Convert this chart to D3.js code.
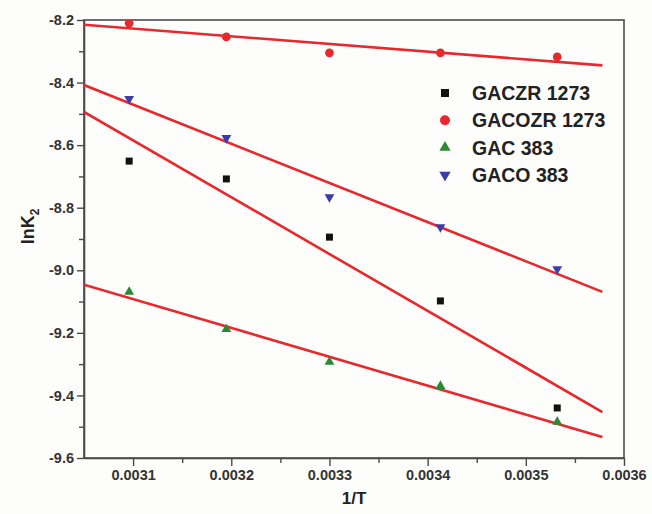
<!DOCTYPE html>
<html>
<head>
<meta charset="utf-8">
<script src="https://cdn.jsdelivr.net/npm/d3@7"></script>
<style>
  body { margin: 0; background: #fdfdfb; }
  svg { font-family: 'Liberation Sans', Arial, sans-serif; }
</style>
</head>
<body>
<div id="chart"></div>
<script>
// 1/T values (same for every series)
const invT = [0.003096, 0.003195, 0.0033, 0.003413, 0.003532]

const seriesNames = ['GACZR 1273', 'GACOZR 1273', 'GAC 383', 'GACO 383']
const gaczr = [-8.651, -8.708, -8.894, -9.098, -9.440]
const gacozr = [-8.210, -8.254, -8.305, -8.305, -8.318]
const gac = [-9.069, -9.188, -9.293, -9.370, -9.485]
const gaco = [-8.452, -8.577, -8.766, -8.862, -8.996]

// fitted lines: value at fitX[0] and fitX[1]
const fitX = [0.00305, 0.003578]
const fitGaczr = [-8.494, -9.453]
const fitGacozr = [-8.215, -8.345]
const fitGac = [-9.046, -9.533]
const fitGaco = [-8.408, -9.069]

const xTicks = [0.0031, 0.0032, 0.0033, 0.0034, 0.0035, 0.0036]
const yTicks = [-8.2, -8.4, -8.6, -8.8, -9.0, -9.2, -9.4, -9.6]

const width = 652, height = 514
const margin = { left: 84, right: 28, top: 20, bottom: 56 }

const svg = d3.select('#chart').append('svg').attr('width', width).attr('height', height)

const x = d3.scaleLinear().domain([0.00305, 0.0036]).range([margin.left, width - margin.right])
const y = d3.scaleLinear().domain([-9.6, -8.2]).range([height - margin.bottom, margin.top])

const axisColor = '#4a4a4a'
const red = '#e8282c'

svg.append('clipPath').attr('id', 'plot')
	.append('rect')
	.attr('x', margin.left).attr('y', margin.top)
	.attr('width', width - margin.left - margin.right)
	.attr('height', height - margin.top - margin.bottom)

// minor ticks
const xMinor = [0.00315, 0.00325, 0.00335, 0.00345, 0.00355]
const yMinor = [-8.3, -8.5, -8.7, -8.9, -9.1, -9.3, -9.5]

const xAxis = svg.append('g').attr('transform', `translate(0,${height - margin.bottom})`)
xAxis.call(d3.axisBottom(x).tickValues(xTicks).tickFormat(d3.format('.4f')).tickSize(8).tickSizeOuter(0).tickPadding(4))
svg.append('g').attr('transform', `translate(0,${height - margin.bottom})`)
	.call(d3.axisBottom(x).tickValues(xMinor).tickFormat('').tickSize(5).tickSizeOuter(0))
	.call((g) => g.select('.domain').remove())

const yAxis = svg.append('g').attr('transform', `translate(${margin.left},0)`)
yAxis.call(d3.axisLeft(y).tickValues(yTicks).tickFormat(d3.format('.1f')).tickSize(7).tickSizeOuter(0).tickPadding(3))
svg.append('g').attr('transform', `translate(${margin.left},0)`)
	.call(d3.axisLeft(y).tickValues(yMinor).tickFormat('').tickSize(5).tickSizeOuter(0))
	.call((g) => g.select('.domain').remove())

// frame
svg.append('rect')
	.attr('x', margin.left).attr('y', margin.top)
	.attr('width', width - margin.left - margin.right)
	.attr('height', height - margin.top - margin.bottom)
	.attr('fill', 'none').attr('stroke', axisColor).attr('stroke-width', 1.6)

svg.selectAll('.tick line').attr('stroke', axisColor).attr('stroke-width', 1.4)
svg.selectAll('.domain').attr('stroke', axisColor).attr('stroke-width', 1.6)
svg.selectAll('.tick text')
	.attr('fill', '#333')
	.attr('font-size', '14.5px')
	.attr('font-weight', 'bold')
	.attr('font-family', "'Liberation Sans', Arial, sans-serif")
yAxis.selectAll('.tick text').text((d) => d3.format('.1f')(d).replace('−', '-'))

// axis titles
svg.append('text')
	.attr('x', x(0.003325)).attr('y', 504)
	.attr('text-anchor', 'middle')
	.attr('font-size', '17px').attr('font-weight', 'bold').attr('fill', '#222')
	.text('1/T')

const yTitle = svg.append('text')
	.attr('transform', `translate(34,${y(-8.86)}) rotate(-90)`)
	.attr('text-anchor', 'middle')
	.attr('font-size', '18px').attr('font-weight', 'bold').attr('fill', '#222')
yTitle.append('tspan').text('lnK')
yTitle.append('tspan').attr('font-size', '12px').attr('dy', 5).text('2')

const plot = svg.append('g').attr('clip-path', 'url(#plot)')

// fit lines
const fits = [fitGaczr, fitGacozr, fitGac, fitGaco]
plot.selectAll('.fit')
	.data(fits)
	.enter()
	.append('line')
	.attr('class', 'fit')
	.attr('x1', x(fitX[0])).attr('x2', x(fitX[1]))
	.attr('y1', (d) => y(d[0])).attr('y2', (d) => y(d[1]))
	.attr('stroke', red).attr('stroke-width', 2.6)

// markers
const symbols = [d3.symbolSquare, d3.symbolCircle, d3.symbolTriangle, d3.symbolTriangle]
const sizes = [49, 60, 42, 42]
const colors = ['#111111', red, '#2b8a35', '#3c3ca8']
const rotations = [0, 0, 0, 180]
const allSeries = [gaczr, gacozr, gac, gaco]

allSeries.forEach(function (vals, si) {
	plot.append('g')
		.selectAll('path')
		.data(vals)
		.enter()
		.append('path')
		.attr('d', d3.symbol().type(symbols[si]).size(sizes[si]))
		.attr('transform', (d, i) => `translate(${x(invT[i])},${y(d)}) rotate(${rotations[si]})`)
		.attr('fill', colors[si])
})

// legend
const legend = svg.append('g').attr('transform', 'translate(445,93)')
seriesNames.forEach(function (name, i) {
	const row = legend.append('g').attr('transform', `translate(0,${i * 27.3})`)
	row.append('path')
		.attr('d', d3.symbol().type(symbols[i]).size(sizes[i] * 1.3))
		.attr('transform', `rotate(${rotations[i]})`)
		.attr('fill', colors[i])
	row.append('text')
		.attr('x', 27).attr('y', 7)
		.attr('font-size', '19.5px').attr('font-weight', 'bold').attr('fill', '#222')
		.text(name)
})
</script>
</body>
</html>
